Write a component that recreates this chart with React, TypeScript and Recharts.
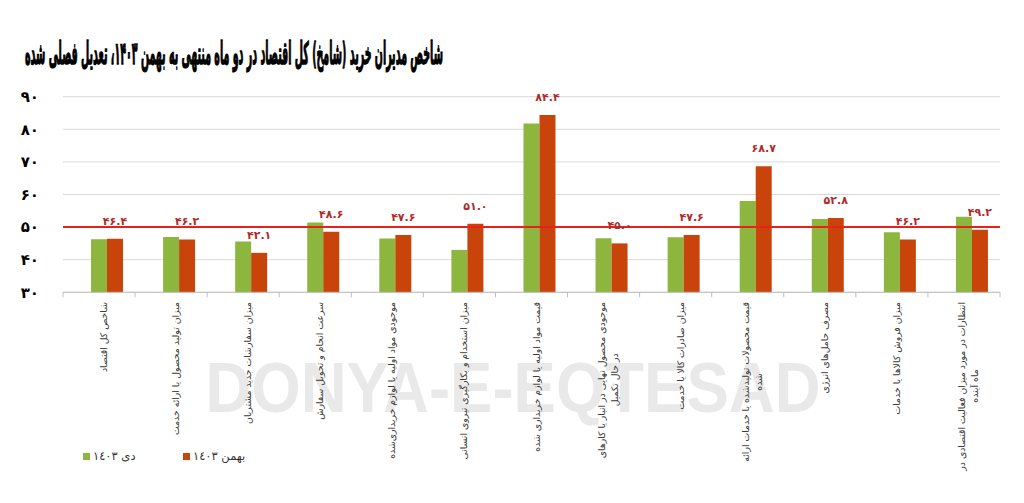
import React from 'react';
import { BarChart, Bar, XAxis, YAxis, CartesianGrid, ReferenceLine, LabelList } from 'recharts';

const title = 'شاخص مدیران خرید (شامخ) کل اقتصاد در دو ماه منتهی به بهمن ۱۴۰۳، تعدیل فصلی شده';

const categories = [
  'شاخص کل اقتصاد',
  'میزان تولید محصول یا ارائه خدمت',
  'میزان سفارشات جدید مشتریان',
  'سرعت انجام و تحویل سفارش',
  'موجودی مواد اولیه یا لوازم خریداری‌شده',
  'میزان استخدام و بکارگیری نیروی انسانی',
  'قیمت مواد اولیه یا لوازم خریداری شده',
  'موجودی محصول نهایی در انبار یا کارهای\nدر حال تکمیل',
  'میزان صادرات کالا یا خدمت',
  'قیمت محصولات تولیدشده یا خدمات ارائه\nشده',
  'مصرف حامل‌های انرژی',
  'میزان فروش کالاها یا خدمات',
  'انتظارات در مورد میزان فعالیت اقتصادی در\nماه آینده',
];

const dey1403 = [46.3, 47.0, 45.6, 51.4, 46.5, 43.0, 81.8, 46.6, 46.9, 58.0, 52.5, 48.4, 53.2];
const bahman1403 = [46.4, 46.2, 42.1, 48.6, 47.6, 51.0, 84.4, 45.0, 47.6, 68.7, 52.8, 46.2, 49.2];

const yTicks = [30, 40, 50, 60, 70, 80, 90];
const threshold = 50;
const seriesNames = ['دی ۱٤۰۳', 'بهمن ۱٤۰۳'];
const seriesColors = ['#8cb63e', '#c8440a'];
const watermark = 'DONYA-E-EQTESAD';

const data = categories.map((name, i) => ({
  name,
  spacer: null as number | null,
  dey: dey1403[i],
  bahman: bahman1403[i],
}));

const faDigits = (s: string) => s.replace(/[0-9]/g, (d) => '۰۱۲۳۴۵۶۷۸۹'[Number(d)]);

const FONT = '"DejaVu Sans", sans-serif';

const CategoryTick = (props: any) => {
  const { x, y, payload, index } = props;
  const half = payload && payload.offset ? payload.offset : 36;
  const lines = String(payload.value).split('\n');
  const isLast = index === categories.length - 1;
  return (
    <g>
      <line x1={x - half} x2={x - half} y1={y} y2={y + 5} stroke="#bfbfbf" />
      {isLast && <line x1={x + half} x2={x + half} y1={y} y2={y + 5} stroke="#bfbfbf" />}
      <foreignObject x={x - 36 + 4} y={y + 10} width={72} height={200}>
        <div style={{ position: 'relative', width: 72, height: 200 }}>
          <div
            dir="rtl"
            style={{
              position: 'absolute',
              top: 0,
              left: '50%',
              transform: 'translateX(-50%) rotate(180deg)',
              writingMode: 'vertical-rl',
              whiteSpace: 'nowrap',
              textAlign: 'center',
              fontFamily: FONT,
              fontSize: 9.3,
              lineHeight: '13px',
              color: '#3a3a3a',
            }}
          >
            {lines.map((l, i) => (
              <React.Fragment key={i}>
                {i > 0 && <br />}
                {l}
              </React.Fragment>
            ))}
          </div>
        </div>
      </foreignObject>
    </g>
  );
};

export default function App() {
  return (
    <div style={{ position: 'relative', width: 1008, height: 487, fontFamily: FONT }}>
      <svg width={1008} height={487} style={{ position: 'absolute', left: 0, top: 0 }}>
        <text
          x={505}
          y={404}
          textAnchor="middle"
          fontFamily='"Liberation Sans", Arial, sans-serif'
          fontWeight={700}
          fontSize={70}
          fill="#e9e9e9"
          textLength={615}
          lengthAdjust="spacingAndGlyphs"
        >
          {watermark}
        </text>
        <g transform="translate(17,56) scale(1,2.65)">
          <text
            x={0}
            y={0}
            textAnchor="start"
            fontFamily={FONT}
            fontWeight={900}
            fontSize={11.7}
            fill="#000"
            stroke="#000"
            strokeWidth={0.5}
            textLength={418}
            lengthAdjust="spacingAndGlyphs"
          >
            {title}
          </text>
        </g>
      </svg>
      <div style={{ position: 'absolute', left: 0, top: 0 }}>
        <BarChart
          width={1008}
          height={487}
          data={data}
          margin={{ top: 88.7, right: 16, left: 0, bottom: 0 }}
          barCategoryGap="16.67%"
          barGap={0}
        >
          <CartesianGrid vertical={false} stroke="#d9d9d9" />
          <YAxis
            domain={[30, 90]}
            ticks={yTicks}
            width={55}
            axisLine={false}
            tickLine={false}
            tickSize={0}
            tickMargin={24}
            tick={{ fill: '#000', fontSize: 15, fontWeight: 700, fontFamily: FONT }}
            tickFormatter={(v: number) => faDigits(String(v))}
          />
          <XAxis
            dataKey="name"
            interval={0}
            height={202.7}
            axisLine={{ stroke: '#bfbfbf' }}
            tickLine={false}
            tickSize={0}
            tickMargin={0}
            tick={<CategoryTick />}
          />
          <Bar dataKey="spacer" fill="transparent" isAnimationActive={false} legendType="none" />
          <Bar dataKey="dey" name={seriesNames[0]} fill={seriesColors[0]} isAnimationActive={false} />
          <Bar dataKey="bahman" name={seriesNames[1]} fill={seriesColors[1]} isAnimationActive={false}>
            <LabelList
              dataKey="bahman"
              position="top"
              offset={14}
              fill="#b02a2a"
              fontSize={11}
              fontWeight={700}
              fontFamily={FONT}
              formatter={(v: any) => faDigits(Number(v).toFixed(1))}
            />
          </Bar>
          <ReferenceLine y={threshold} stroke="#e8211d" strokeWidth={2} ifOverflow="extendDomain" />
        </BarChart>
      </div>
      <div style={{ position: 'absolute', left: 75, top: 441, display: 'flex', fontFamily: FONT, fontSize: 11.5, color: '#333' }}>
        {seriesNames.map((n, i) => (
          <div key={n} style={{ display: 'flex', alignItems: 'center', width: 100 }}>
            <span style={{ display: 'inline-block', width: 7, height: 7, background: seriesColors[i], marginRight: 3 }} />
            <span dir="rtl">{n}</span>
          </div>
        ))}
      </div>
    </div>
  );
}
